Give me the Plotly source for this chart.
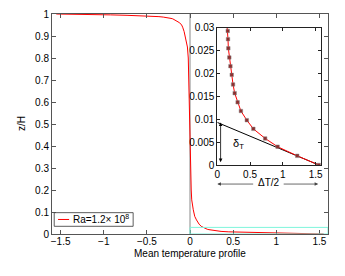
import plotly.graph_objects as go

# ---- data ----
# lower thermal boundary layer (markers in the inset)
z_bl = [0.0, 0.0020, 0.0040, 0.0058, 0.0079, 0.0098, 0.0118, 0.0137, 0.0157,
        0.0176, 0.0197, 0.0216, 0.0235, 0.0255, 0.0275, 0.0293]
T_bl = [1.55, 1.22, 0.92, 0.73, 0.55, 0.45, 0.36, 0.31, 0.265,
        0.24, 0.22, 0.20, 0.183, 0.168, 0.163, 0.159]
# lower bulk part of the profile
z_low = [0.030, 0.035, 0.045, 0.064, 0.080, 0.110, 0.155, 0.20, 0.30, 0.40, 0.50]
T_low = [0.155, 0.130, 0.105, 0.075, 0.055, 0.038, 0.020, 0.014, 0.008, 0.004, 0.0]
# upper part of the profile
z_top = [0.50, 0.60, 0.70, 0.80, 0.85, 0.90, 0.92, 0.94, 0.95, 0.96, 0.97,
         0.972, 0.974, 0.976, 0.978, 0.980, 0.982, 0.984, 0.986, 0.988, 0.990,
         0.992, 0.994, 0.996, 0.998, 1.0]
T_top = [0.0, -0.005, -0.010, -0.020, -0.030, -0.055, -0.068, -0.085, -0.097, -0.12, -0.16,
         -0.163, -0.17, -0.185, -0.20, -0.22, -0.24, -0.27, -0.31, -0.36, -0.45,
         -0.55, -0.73, -0.92, -1.22, -1.55]
# inset line top end
z_inset_end = [0.030]
T_inset_end = [0.150]
# tangent line at the wall
tan_T = [0.0, 1.55]
tan_z = [0.0093, 0.0]
# zoom box
box_T = [0.0, 1.6]
box_z = [0.0, 0.03]

main_x_ticks = [-1.5, -1, -0.5, 0, 0.5, 1, 1.5]
main_x_labels = ["\u22121.5", "\u22121", "\u22120.5", "0", "0.5", "1", "1.5"]
main_y_ticks = [0, 0.1, 0.2, 0.3, 0.4, 0.5, 0.6, 0.7, 0.8, 0.9, 1]
main_y_labels = ["0", "0.1", "0.2", "0.3", "0.4", "0.5", "0.6", "0.7", "0.8", "0.9", "1"]
ins_x_ticks = [0, 0.5, 1, 1.5]
ins_x_labels = ["0", "0.5", "1", "1.5"]
ins_y_ticks = [0, 0.005, 0.01, 0.015, 0.02, 0.025, 0.03]
ins_y_labels = ["0", "0.005", "0.01", "0.015", "0.02", "0.025", "0.03"]

legend_label = "Ra=1.2\u00d7 10<sup>8</sup>"

FONT = "Liberation Sans, Arial, Helvetica, sans-serif"
RED = "#ff0000"

fig = go.Figure()

full_z = z_bl + z_low + z_top
full_T = T_bl + T_low + T_top
fig.add_trace(go.Scatter(x=full_T, y=full_z, mode="lines",
                         line=dict(color=RED, width=1), name=legend_label,
                         showlegend=False, xaxis="x", yaxis="y"))

# inset
fig.add_trace(go.Scatter(x=tan_T, y=tan_z, mode="lines",
                         line=dict(color="black", width=1), showlegend=False,
                         xaxis="x2", yaxis="y2"))
fig.add_trace(go.Scatter(x=T_bl + T_inset_end, y=z_bl + z_inset_end, mode="lines",
                         line=dict(color=RED, width=1), showlegend=False,
                         xaxis="x2", yaxis="y2"))
fig.add_trace(go.Scatter(x=T_bl, y=z_bl, mode="markers",
                         marker=dict(symbol="square", size=3.5, color="#8e2f2f",
                                     line=dict(color="#888888", width=0.5)),
                         showlegend=False, xaxis="x2", yaxis="y2"))

shapes = [
    # vertical line at x = 0
    dict(type="line", xref="x", yref="paper", x0=0, x1=0, y0=0, y1=1,
         line=dict(color="#888888", width=1), layer="below"),
    # zoom box
    dict(type="rect", xref="x", yref="y", x0=box_T[0], x1=box_T[1],
         y0=box_z[0], y1=box_z[1], line=dict(color="#7ff5dc", width=1)),
    # manual legend box
    dict(type="rect", xref="paper", yref="paper", x0=0.008, x1=0.294,
         y0=0.035, y1=0.097, line=dict(color="#333333", width=0.8),
         fillcolor="white"),
    dict(type="line", xref="paper", yref="paper", x0=0.022, x1=0.062,
         y0=0.066, y1=0.066, line=dict(color=RED, width=1)),
]

annotations = [
    dict(text=legend_label, xref="paper", yref="paper", x=0.068, y=0.066,
         xanchor="left", yanchor="middle", showarrow=False,
         font=dict(family=FONT, size=10, color="black")),
    dict(text="z/H", xref="paper", yref="paper", x=-0.112, y=0.5,
         xanchor="center", yanchor="middle",
         textangle=-90, showarrow=False,
         font=dict(family=FONT, size=10, color="black")),
    dict(text="Mean temperature profile", xref="paper", yref="paper", x=0.5, y=-0.087,
         yanchor="middle", showarrow=False,
         font=dict(family=FONT, size=10, color="black")),
    # delta_T arrow
    dict(x=0.05, y=0.0093, ax=0.05, ay=0.0003, xref="x2", yref="y2",
         axref="x2", ayref="y2", showarrow=True, arrowhead=2, arrowside="end+start",
         arrowsize=0.9, arrowwidth=0.8, arrowcolor="black", text=""),
    dict(text="\u03b4<sub>T</sub>", x=0.32, y=0.0045, xref="x2", yref="y2",
         showarrow=False, font=dict(family=FONT, size=11, color="black")),
    # Delta T / 2 arrows
    dict(text="\u0394T/2", x=0.79, y=0.236, xref="x2", yref="paper",
         yanchor="middle", showarrow=False, font=dict(family=FONT, size=10, color="black")),
    dict(x=0.0, y=0.227, ax=0.57, ay=0, xref="x2", yref="paper",
         axref="x2", ayref="pixel", showarrow=True, arrowhead=2,
         arrowsize=0.9, arrowwidth=0.8, arrowcolor="#444444", text=""),
    dict(x=1.54, y=0.227, ax=0.99, ay=0, xref="x2", yref="paper",
         axref="x2", ayref="pixel", showarrow=True, arrowhead=2,
         arrowsize=0.9, arrowwidth=0.8, arrowcolor="#444444", text=""),
]

axis_font = dict(family=FONT, size=10, color="black")

common = dict(showgrid=False, zeroline=False, tickfont=axis_font,
              automargin=False, tickmode="array", showline=True,
              linewidth=1, mirror="ticks", ticks="inside")

fig.update_layout(
    width=345, height=276,
    margin=dict(l=52, r=17, t=14, b=42, autoexpand=False),
    paper_bgcolor="white", plot_bgcolor="white",
    showlegend=False,
    font=axis_font,
    shapes=shapes, annotations=annotations,
    xaxis=dict(domain=[0, 1], range=[-1.6, 1.6],
               tickvals=main_x_ticks, ticktext=main_x_labels, ticklabelstandoff=-2,
               ticklen=4, tickcolor="#555555", linecolor="#555555", **common),
    yaxis=dict(domain=[0, 1], range=[0, 1],
               tickvals=main_y_ticks, ticktext=main_y_labels,
               ticklen=4, tickcolor="#555555", linecolor="#555555", **common),
    xaxis2=dict(domain=[0.599, 0.974], anchor="y2", range=[0, 1.58],
                tickvals=ins_x_ticks, ticktext=ins_x_labels,
                ticklen=3, tickcolor="#222222", linecolor="#222222", **common),
    yaxis2=dict(domain=[0.3136, 0.9377], anchor="x2", range=[0, 0.03],
                tickvals=ins_y_ticks, ticktext=ins_y_labels,
                ticklen=3, tickcolor="#222222", linecolor="#222222", **common),
)

fig.write_html("out.html", config={"displayModeBar": False},
               post_script="document.body.style.margin='0px';document.body.style.overflow='hidden';")
